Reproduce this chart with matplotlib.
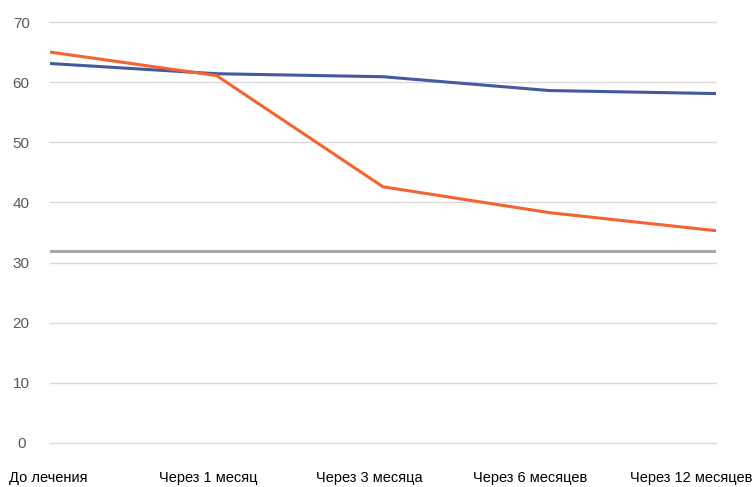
import matplotlib.pyplot as plt
import matplotlib.transforms as mtransforms
import numpy as np

periods = ['До лечения', 'Через 1 месяц', 'Через 3 месяца', 'Через 6 месяцев', 'Через 12 месяцев']
series_blue = [63.1, 61.4, 60.9, 58.6, 58.1]
series_orange = [65.0, 61.1, 42.6, 38.3, 35.3]
threshold = 32

plt.rcParams['font.family'] = ['Liberation Sans', 'DejaVu Sans']

fig = plt.figure(figsize=(7.53, 4.87), dpi=100)
ax = fig.add_axes([50/753, 44/487, 666/753, 421/487])

x = np.arange(len(periods))
ax.plot(x, series_blue, color='#44599e', linewidth=2.2, solid_capstyle='butt', zorder=3)
ax.plot(x, series_orange, color='#f26430', linewidth=2.2, solid_capstyle='butt', zorder=3)
ax.axhline(threshold, color='#a6a6a6', linewidth=2.2, zorder=2)

ax.set_xlim(0, len(periods) - 1)
ax.set_ylim(0, 70)
ax.set_yticks(np.arange(0, 71, 10))
ax.yaxis.grid(True, color='#d9d9d9', linewidth=1)
for gl in ax.get_ygridlines():
    gl.set_clip_on(False)
ax.set_axisbelow(True)
for s in ax.spines.values():
    s.set_visible(False)

ax.tick_params(axis='y', length=0, pad=20, labelsize=11, labelcolor='#595959')
ax.tick_params(axis='x', length=0, pad=20, labelsize=10.5, labelcolor='#000000')
ax.set_xticks(x)
ax.set_xticklabels(periods)
for lab in ax.get_yticklabels():
    lab.set_horizontalalignment('center')
    lab.set_transform(lab.get_transform() + mtransforms.ScaledTranslation(-0.01, 0, fig.dpi_scale_trans))
# category labels drift left a little along the axis
for i, lab in enumerate(ax.get_xticklabels()):
    lab.set_transform(lab.get_transform() + mtransforms.ScaledTranslation(-0.02 - 0.058 * i, 0, fig.dpi_scale_trans))

fig.savefig('out.png', dpi=100)
